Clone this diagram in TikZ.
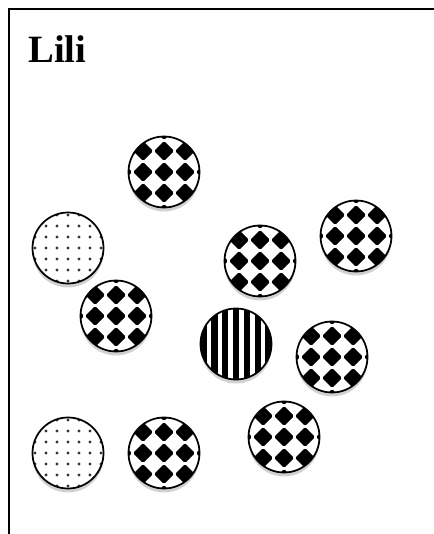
\documentclass[tikz,border=0pt]{standalone}
\usepackage{fontspec}
\setmainfont{Liberation Serif}

\begin{document}
\begin{tikzpicture}[
   x=0.75pt, y=-0.75pt,
   frame/.style={line width=1.5pt},
   chipline/.style={draw, line width=1.3pt},
   chipshadow/.style={fill=black!18},
   title/.style={font=\fontsize{29}{32}\selectfont\bfseries, anchor=base west,
      inner sep=0pt},
   pics/checkchip/.style={code={
      \fill[chipshadow] (0,4) circle[radius=35.5];
      \begin{scope}
         \clip (0,0) circle[radius=35.5];
         \fill[white] (-40,-40) rectangle (40,40);
         \foreach \i in {-2,...,2}
            \foreach \j in {-2,...,2}
               \fill[black, rounded corners=1.2pt] ({\i*21},{\j*21-10})
                  -- ++(10,10) -- ++(-10,10) -- ++(-10,-10) -- cycle;
      \end{scope}
      \draw[chipline] (0,0) circle[radius=35.5];
   }},
   pics/dotchip/.style={code={
      \fill[chipshadow] (0,4) circle[radius=35.5];
      \begin{scope}
         \clip (0,0) circle[radius=35.5];
         \fill[white] (-40,-40) rectangle (40,40);
         \foreach \i in {-3,...,3}
            \foreach \j in {-3,...,3}
               \fill[black!80] ({\i*11},{\j*11}) circle[radius=1.6];
      \end{scope}
      \draw[chipline] (0,0) circle[radius=35.5];
   }},
   pics/stripechip/.style={code={
      \fill[chipshadow] (0,4) circle[radius=35.5];
      \begin{scope}
         \clip (0,0) circle[radius=35.5];
         \fill[white] (-40,-40) rectangle (40,40);
         \foreach \i in {-4,...,4}
            \fill[black] ({\i*10.8-3.1},-40) rectangle ++(6.2,80);
      \end{scope}
      \draw[chipline] (0,0) circle[radius=35.5];
   }}
]
\useasboundingbox (0,0) rectangle (433,534);

% frame and name
\draw[frame] (9,540) -- (9,9) -- (440,9);
\node[title] (name) at (28,63) {Lili};

% chips
\pic (chipA) at (164,172) {checkchip};
\pic (dotA)  at (68,248)  {dotchip};
\pic (chipB) at (260,261) {checkchip};
\pic (chipC) at (356,236) {checkchip};
\pic (chipD) at (116,316) {checkchip};
\pic (bar)   at (236,344) {stripechip};
\pic (chipE) at (332,357) {checkchip};
\pic (dotB)  at (68,453)  {dotchip};
\pic (chipF) at (164,453) {checkchip};
\pic (chipG) at (284,437) {checkchip};
\end{tikzpicture}
\end{document}
